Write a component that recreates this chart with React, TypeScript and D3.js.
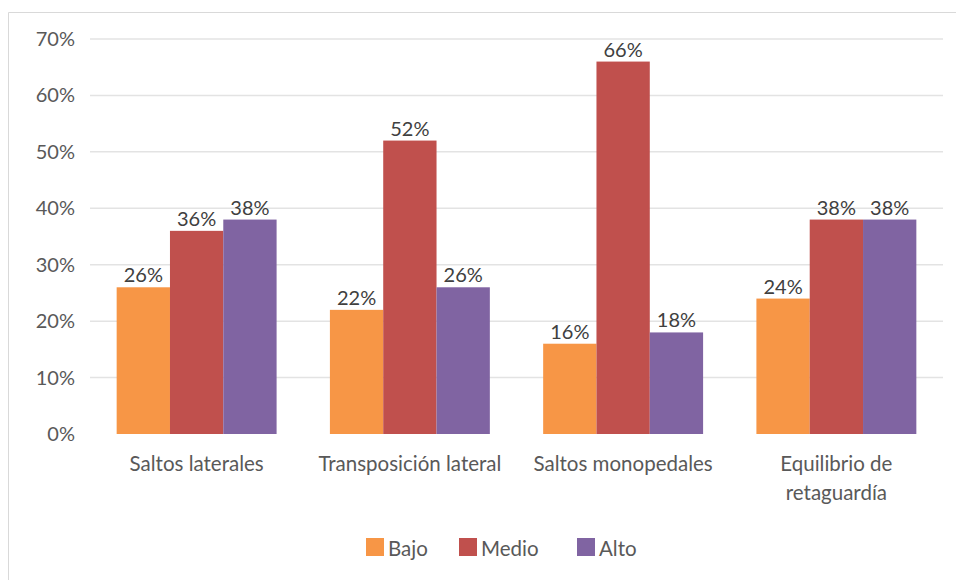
import React from "react";
import * as d3 from "d3";

const categories: string[][] = [
  ["Saltos laterales"],
  ["Transposición lateral"],
  ["Saltos monopedales"],
  ["Equilibrio de", "retaguardía"],
];
const seriesNames = ["Bajo", "Medio", "Alto"];
const bajo = [0.26, 0.22, 0.16, 0.24];
const medio = [0.36, 0.52, 0.66, 0.38];
const alto = [0.38, 0.26, 0.18, 0.38];
const yTicks = [0, 0.1, 0.2, 0.3, 0.4, 0.5, 0.6, 0.7];
const colors = ["#F79646", "#C0504D", "#8064A2"];

const W = 956;
const H = 580;
const FONT = "Lato, 'Open Sans', sans-serif";

export default function App() {
  const series = [bajo, medio, alto];
  const x0 = d3
    .scaleBand<number>()
    .domain(categories.map((_, i) => i))
    .range([90, 943])
    .paddingInner(0.25)
    .paddingOuter(0.125);
  const x1 = d3
    .scaleBand<number>()
    .domain(seriesNames.map((_, i) => i))
    .range([0, x0.bandwidth()]);
  const y = d3.scaleLinear().domain([0, 0.7]).range([434, 39]);
  const fmt = d3.format(".0%");

  const legendX = [366, 459, 577];

  return (
    <svg
      width={W}
      height={H}
      style={{ position: "absolute", left: 0, top: 0, background: "#fff" }}
      fontFamily={FONT}
    >
      <line x1={8.5} y1={12.5} x2={8.5} y2={H} stroke="#d9d9d9" />
      <line x1={8.5} y1={12.5} x2={W} y2={12.5} stroke="#d9d9d9" />
      {yTicks.map((t) => (
        <g key={t}>
          {t > 0 && (
            <line
              x1={90}
              x2={943}
              y1={y(t)}
              y2={y(t)}
              stroke="#e3e3e3"
              strokeWidth={1.5}
            />
          )}
          <text
            x={75}
            y={y(t)}
            dy="0.35em"
            textAnchor="end"
            fontSize={20}
            fill="#595959"
          >
            {fmt(t)}
          </text>
        </g>
      ))}
      {categories.map((c, i) => (
        <g key={i} transform={`translate(${x0(i)},0)`}>
          {series.map((s, j) => (
            <g key={j}>
              <rect
                x={x1(j)}
                y={y(s[i])}
                width={x1.bandwidth()}
                height={y(0) - y(s[i])}
                fill={colors[j]}
              />
              <text
                x={(x1(j) as number) + x1.bandwidth() / 2}
                y={y(s[i]) - 5}
                textAnchor="middle"
                fontSize={20}
                fill="#404040"
              >
                {fmt(s[i])}
              </text>
            </g>
          ))}
          {c.map((line, k) => (
            <text
              key={k}
              x={x0.bandwidth() / 2}
              y={471 + k * 28.5}
              textAnchor="middle"
              fontSize={20.5}
              fill="#595959"
            >
              {line}
            </text>
          ))}
        </g>
      ))}
      {seriesNames.map((n, j) => (
        <g key={n} transform={`translate(${legendX[j]},538)`}>
          <rect x={0} y={0} width={18} height={18} fill={colors[j]} />
          <text x={22} y={17.5} fontSize={20.5} fill="#595959">
            {n}
          </text>
        </g>
      ))}
    </svg>
  );
}
